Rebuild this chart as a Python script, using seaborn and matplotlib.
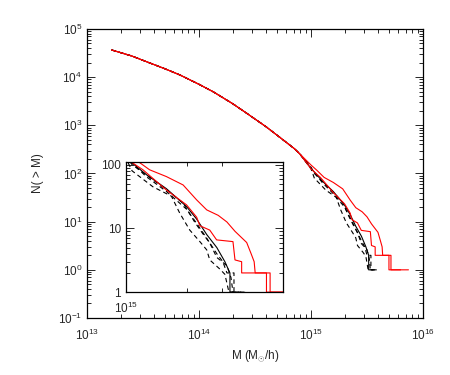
import numpy as np
import pandas as pd
import seaborn as sns
import matplotlib
matplotlib.use("Agg")
import matplotlib.pyplot as plt
from matplotlib.ticker import FixedLocator, NullFormatter, FixedFormatter, LogLocator

# shared part of the cumulative mass function (log10 M, N)
base_logm = [13.22, 13.4, 13.53, 13.7, 13.83, 14.0, 14.125, 14.3, 14.426, 14.6, 14.723, 14.85, 14.9]
base_n = [36700, 27500, 21000, 14800, 11100, 7100, 5000, 2820, 1780, 930, 560, 330, 255]

# high-mass tails of every run (log10 M, N)
red1_logm = [15.0, 15.05, 15.117, 15.2, 15.283, 15.35, 15.40, 15.457, 15.5, 15.54, 15.598, 15.62, 15.635, 15.64, 15.714, 15.714, 15.87]
red1_n = [150, 118, 83, 65, 48, 28, 19.5, 16, 12.6, 9, 6, 4, 3, 2, 2, 1, 1]
red2_logm = [15.0, 15.084, 15.2, 15.3, 15.35, 15.366, 15.415, 15.449, 15.53, 15.54, 15.573, 15.573, 15.696, 15.696, 15.80]
red2_n = [125, 83, 40, 23.4, 15, 11, 9.4, 6.6, 6.2, 3.2, 3, 2, 2, 1, 1]
blk1_logm = [15.0, 15.1, 15.2, 15.3, 15.35, 15.4, 15.45, 15.49, 15.515, 15.515, 15.55]
blk1_n = [128, 70, 42, 22, 14, 8, 5, 3, 2, 1, 1]
blk2_logm = [15.0, 15.03, 15.157, 15.225, 15.283, 15.34, 15.38, 15.415, 15.45, 15.5, 15.52, 15.53, 15.6]
blk2_n = [135, 100, 51, 35, 25, 12.6, 8.3, 5.9, 3.5, 2.6, 1.7, 1, 1]
blk3_logm = [15.0, 15.03, 15.133, 15.225, 15.266, 15.316, 15.366, 15.4, 15.415, 15.465, 15.49, 15.51, 15.56]
blk3_n = [125, 80, 45, 32, 17.4, 9.4, 6.2, 4.6, 3.2, 2.3, 1.9, 1, 1]
blk4_logm = [15.0, 15.1, 15.2, 15.3, 15.35, 15.4, 15.45, 15.48, 15.5, 15.535, 15.535, 15.59]
blk4_n = [130, 65, 38, 20, 12, 7, 4, 3, 2, 2, 1, 1]

runs = [
    (blk1_logm, blk1_n, "black", "-"),
    (blk2_logm, blk2_n, "black", (0, (4, 3))),
    (blk3_logm, blk3_n, "black", (0, (4, 3))),
    (blk4_logm, blk4_n, "black", (0, (4, 3))),
    (red2_logm, red2_n, "red", "-"),
    (red1_logm, red1_n, "red", "-"),
]

sns.set_style("ticks")
plt.rcParams["font.family"] = ["Liberation Sans", "DejaVu Sans"]
plt.rcParams["mathtext.fontset"] = "custom"
plt.rcParams["mathtext.rm"] = "Liberation Sans"
plt.rcParams["mathtext.it"] = "Liberation Sans:italic"

fig = plt.figure(figsize=(4.5, 3.75), dpi=100)
ax = fig.add_axes([0.1933, 0.152, 0.7467, 0.7707])
axin = fig.add_axes([0.28, 0.221, 0.349, 0.347])


def draw(a):
    for logm, n, col, ls in runs:
        df = pd.DataFrame({"M": 10 ** np.array(base_logm + logm), "N": base_n + n})
        sns.lineplot(data=df, x="M", y="N", ax=a, color=col, linestyle=ls,
                     lw=0.8, sort=False, estimator=None)


draw(ax)
draw(axin)

for a in (ax, axin):
    a.set_xscale("log")
    a.set_yscale("log")
    for s in a.spines.values():
        s.set_linewidth(0.9)
        s.set_color("black")
    a.tick_params(which="both", direction="in", top=True, right=True, width=0.7)
    a.tick_params(which="major", length=6, labelsize=8.5)
    a.tick_params(which="minor", length=3)

ax.set_xlim(1e13, 1e16)
ax.set_ylim(0.1, 1e5)
ax.yaxis.set_major_locator(LogLocator(base=10, numticks=10))
ax.yaxis.set_minor_locator(LogLocator(base=10, subs=np.arange(2, 10), numticks=20))
ax.yaxis.set_minor_formatter(NullFormatter())
ax.set_xlabel(r"M (M$_{\odot}$/h)", fontsize=8.5)
ax.set_ylabel("N( > M)", fontsize=8.5, labelpad=10)
ax.tick_params(axis="x", pad=7)

axin.set_xlim(1e15, 6e15)
axin.set_ylim(1, 110)
axin.xaxis.set_major_locator(FixedLocator([1e15]))
axin.xaxis.set_minor_locator(FixedLocator([2e15, 3e15]))
axin.xaxis.set_minor_formatter(NullFormatter())
axin.xaxis.set_major_formatter(FixedFormatter([r"$\mathdefault{10^{15}}$"]))
axin.yaxis.set_major_locator(FixedLocator([1, 10, 100]))
axin.yaxis.set_major_formatter(FixedFormatter(["1", "10", "100"]))
axin.yaxis.set_minor_locator(LogLocator(base=10, subs=np.arange(2, 10), numticks=10))
axin.yaxis.set_minor_formatter(NullFormatter())
axin.set_xlabel("")
axin.set_ylabel("")
axin.tick_params(axis="x", pad=6)

fig.savefig("out.png", dpi=100)
